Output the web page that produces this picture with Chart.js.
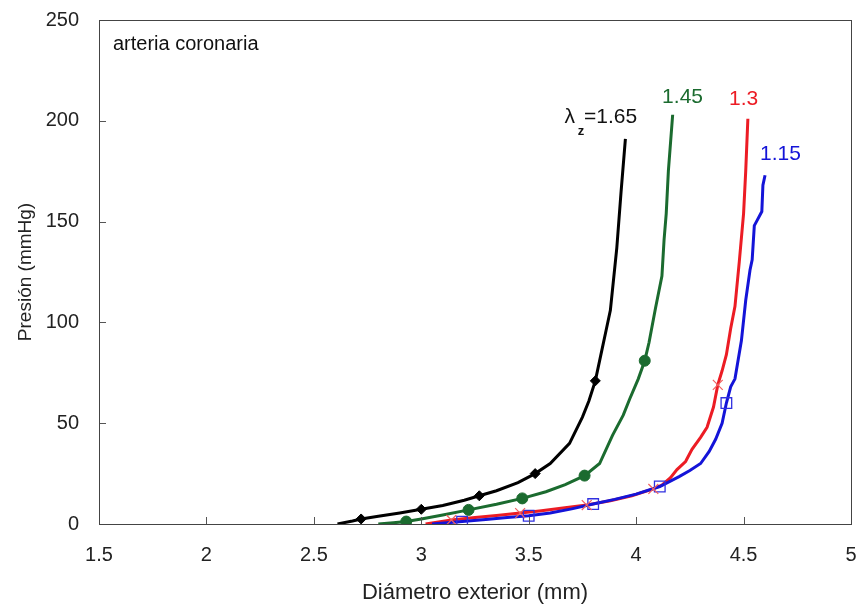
<!DOCTYPE html>
<html>
<head>
<meta charset="utf-8">
<script src="https://cdn.jsdelivr.net/npm/chart.js@4.4.1/dist/chart.umd.min.js"></script>
<style>
  html, body { margin: 0; padding: 0; background: #fff; }
  #wrap { width: 860px; height: 606px; position: relative; }
</style>
</head>
<body>
<div id="wrap"><canvas id="presionChart"></canvas></div>
<script>
// Curvas presion-diametro, arteria coronaria, para cada estiramiento axial lambda_z
const seriesNames = ['1.65', '1.45', '1.3', '1.15'];

const diam165 = [2.61, 2.68, 2.72, 2.80, 2.90, 3.00, 3.10, 3.20, 3.27, 3.35, 3.45, 3.53, 3.60, 3.69, 3.75, 3.78, 3.81, 3.84, 3.86, 3.88, 3.91, 3.93, 3.95];
const pres165 = [0, 1.5, 2.5, 3.8, 5.5, 7.3, 9.2, 11.8, 14, 16.5, 20.5, 25, 30, 40, 53, 61, 71, 86, 96, 106, 137, 165, 191];
const mark165X = [2.72, 3.00, 3.27, 3.53, 3.81];
const mark165Y = [2.5, 7.3, 14, 25, 71];

const diam145 = [2.80, 2.87, 2.93, 3.00, 3.10, 3.22, 3.35, 3.47, 3.58, 3.67, 3.76, 3.83, 3.89, 3.94, 3.97, 4.01, 4.04, 4.06, 4.09, 4.12, 4.13, 4.14, 4.15, 4.17];
const pres145 = [0, 0.6, 1.2, 2.5, 4.5, 7, 9.8, 12.7, 16, 19.5, 24, 30, 44, 54, 62, 72, 81, 90, 107, 123, 141, 154, 175, 203];
const mark145X = [2.93, 3.22, 3.47, 3.76, 4.04];
const mark145Y = [1.2, 7, 12.7, 24, 81];

const diam130 = [3.02, 3.08, 3.14, 3.25, 3.35, 3.46, 3.55, 3.65, 3.77, 3.88, 3.98, 4.08, 4.12, 4.16, 4.19, 4.23, 4.26, 4.30, 4.33, 4.36, 4.38, 4.40, 4.42, 4.44, 4.46, 4.48, 4.50, 4.51, 4.52];
const pres130 = [0, 1, 2, 3.2, 4.2, 5.4, 6.5, 7.8, 9.4, 11.5, 14, 17.4, 19.3, 23, 27, 31, 37, 43, 48, 58, 69, 76, 84, 97, 108, 130, 154, 175, 201];
const mark130X = [3.14, 3.46, 3.77, 4.08, 4.38];
const mark130Y = [2, 5.4, 9.4, 17.4, 69];

const diam115 = [3.05, 3.12, 3.19, 3.30, 3.40, 3.50, 3.60, 3.70, 3.80, 3.90, 4.00, 4.11, 4.20, 4.25, 4.30, 4.34, 4.37, 4.40, 4.42, 4.44, 4.46, 4.49, 4.51, 4.53, 4.54, 4.55, 4.56, 4.585, 4.59, 4.60];
const pres115 = [0, 0.6, 1.2, 2.2, 3.2, 4.1, 5.5, 7.5, 9.9, 12.2, 14.8, 18.6, 23.5, 26.5, 30, 36, 42, 50, 60, 68, 72, 91, 111, 126, 131, 148, 150, 155, 168, 173];
const mark115X = [3.19, 3.50, 3.80, 4.11, 4.42];
const mark115Y = [1.2, 4.1, 9.9, 18.6, 60];

const xTickStep = 0.5;
const yTickStep = 50;

function toPoints(xs, ys) {
    return xs.map((x, i) => ({ x: x, y: ys[i] }));
}

const COLORS = {
    negro: '#000000',
    verde: '#1b6b2f',
    rojo: '#ec1c24',
    azul: '#1414d8'
};

const FONT = "'Liberation Sans', Arial, sans-serif";

// Marcas de division hacia dentro del area y marco del grafico
const framePlugin = {
    id: 'framePlugin',
    afterDraw(chart) {
        const { ctx, chartArea: a, scales } = chart;
        ctx.save();
        ctx.strokeStyle = '#555';
        ctx.lineWidth = 1;
        scales.x.ticks.forEach(t => {
            const px = Math.round(scales.x.getPixelForValue(t.value)) + 0.5;
            ctx.beginPath();
            ctx.moveTo(px, a.bottom);
            ctx.lineTo(px, a.bottom - 7);
            ctx.stroke();
        });
        scales.y.ticks.forEach(t => {
            const py = Math.round(scales.y.getPixelForValue(t.value)) + 0.5;
            ctx.beginPath();
            ctx.moveTo(a.left, py);
            ctx.lineTo(a.left + 7, py);
            ctx.stroke();
        });
        ctx.strokeStyle = '#444';
        ctx.strokeRect(Math.round(a.left) + 0.5, Math.round(a.top) + 0.5,
            Math.round(a.right - a.left), Math.round(a.bottom - a.top));
        ctx.restore();
    }
};

// Rotulos de las curvas
const labelPlugin = {
    id: 'labelPlugin',
    afterDatasetsDraw(chart) {
        const { ctx, scales } = chart;
        const X = v => scales.x.getPixelForValue(v);
        const Y = v => scales.y.getPixelForValue(v);
        ctx.save();
        ctx.textBaseline = 'middle';

        ctx.font = '20px ' + FONT;
        ctx.fillStyle = '#111';
        ctx.textAlign = 'left';
        ctx.fillText('arteria coronaria', X(1.565), Y(238));

        ctx.font = '21px ' + FONT;
        ctx.textAlign = 'center';
        ctx.fillStyle = COLORS.verde;
        ctx.fillText(seriesNames[1], X(4.216), Y(211.6));
        ctx.fillStyle = COLORS.rojo;
        ctx.fillText(seriesNames[2], X(4.50), Y(210.6));
        ctx.fillStyle = COLORS.azul;
        ctx.fillText(seriesNames[3], X(4.672), Y(183.5));

        ctx.fillStyle = '#111';
        ctx.textAlign = 'left';
        ctx.font = '21px ' + FONT;
        ctx.fillText('\u03bb', X(3.667), Y(202));
        ctx.font = 'bold 13px ' + FONT;
        ctx.fillText('z', X(3.728), Y(194.5));
        ctx.font = '21px ' + FONT;
        ctx.fillText('=' + seriesNames[0], X(3.757), Y(202));
        ctx.restore();
    }
};

function curve(xs, ys, color, order) {
    return {
        data: toPoints(xs, ys),
        showLine: true,
        borderColor: color,
        backgroundColor: color,
        borderWidth: 3,
        pointRadius: 0,
        pointHoverRadius: 0,
        tension: 0,
        order: order
    };
}

function markers(xs, ys, opts) {
    return Object.assign({
        data: toPoints(xs, ys),
        showLine: false,
        pointHoverRadius: 0
    }, opts);
}

const ctx = document.getElementById('presionChart').getContext('2d');
const chart = new Chart(ctx, {
    type: 'scatter',
    data: {
        datasets: [
            curve(diam165, pres165, COLORS.negro, 8),
            curve(diam145, pres145, COLORS.verde, 7),
            curve(diam130, pres130, COLORS.rojo, 6),
            curve(diam115, pres115, COLORS.azul, 5),
            markers(mark165X, mark165Y, {
                pointStyle: 'rectRot', pointRadius: 5,
                backgroundColor: COLORS.negro, borderColor: COLORS.negro, borderWidth: 1, order: 1
            }),
            markers(mark145X, mark145Y, {
                pointStyle: 'circle', pointRadius: 5.5,
                backgroundColor: COLORS.verde, borderColor: COLORS.verde, borderWidth: 1, order: 2
            }),
            markers(mark130X, mark130Y, {
                pointStyle: 'crossRot', pointRadius: 7,
                backgroundColor: 'transparent', borderColor: '#f06060', borderWidth: 1.2, order: 3
            }),
            markers(mark115X, mark115Y, {
                pointStyle: 'rect', pointRadius: 7.5,
                backgroundColor: 'transparent', borderColor: '#3030e0', borderWidth: 1.3, order: 4
            })
        ]
    },
    options: {
        responsive: true,
        maintainAspectRatio: false,
        animation: false,
        events: [],
        layout: {
            padding: { top: 20, right: 9, left: 0, bottom: 0 }
        },
        plugins: {
            legend: { display: false },
            tooltip: { enabled: false }
        },
        scales: {
            x: {
                type: 'linear',
                min: 1.5,
                max: 5,
                border: { display: false },
                grid: { display: false, drawTicks: false },
                ticks: {
                    stepSize: xTickStep,
                    padding: 19,
                    color: '#222',
                    font: { family: FONT, size: 20 },
                    callback: v => String(v)
                },
                title: {
                    display: true,
                    text: 'Diámetro exterior (mm)',
                    color: '#222',
                    padding: { top: 9, bottom: 0 },
                    font: { family: FONT, size: 22 }
                },
                afterFit(scale) {
                    scale.height = 82;
                    scale.paddingLeft = 0;
                    scale.paddingRight = 0;
                }
            },
            y: {
                type: 'linear',
                min: 0,
                max: 250,
                border: { display: false },
                grid: { display: false, drawTicks: false },
                ticks: {
                    stepSize: yTickStep,
                    padding: 20,
                    color: '#222',
                    font: { family: FONT, size: 20 }
                },
                title: {
                    display: true,
                    text: 'Presión (mmHg)',
                    color: '#222',
                    padding: { top: 14, bottom: 0 },
                    font: { family: FONT, size: 19 }
                },
                afterFit(scale) {
                    scale.width = 99;
                    scale.paddingTop = 0;
                    scale.paddingBottom = 0;
                }
            }
        }
    },
    plugins: [framePlugin, labelPlugin]
});
</script>
</body>
</html>
